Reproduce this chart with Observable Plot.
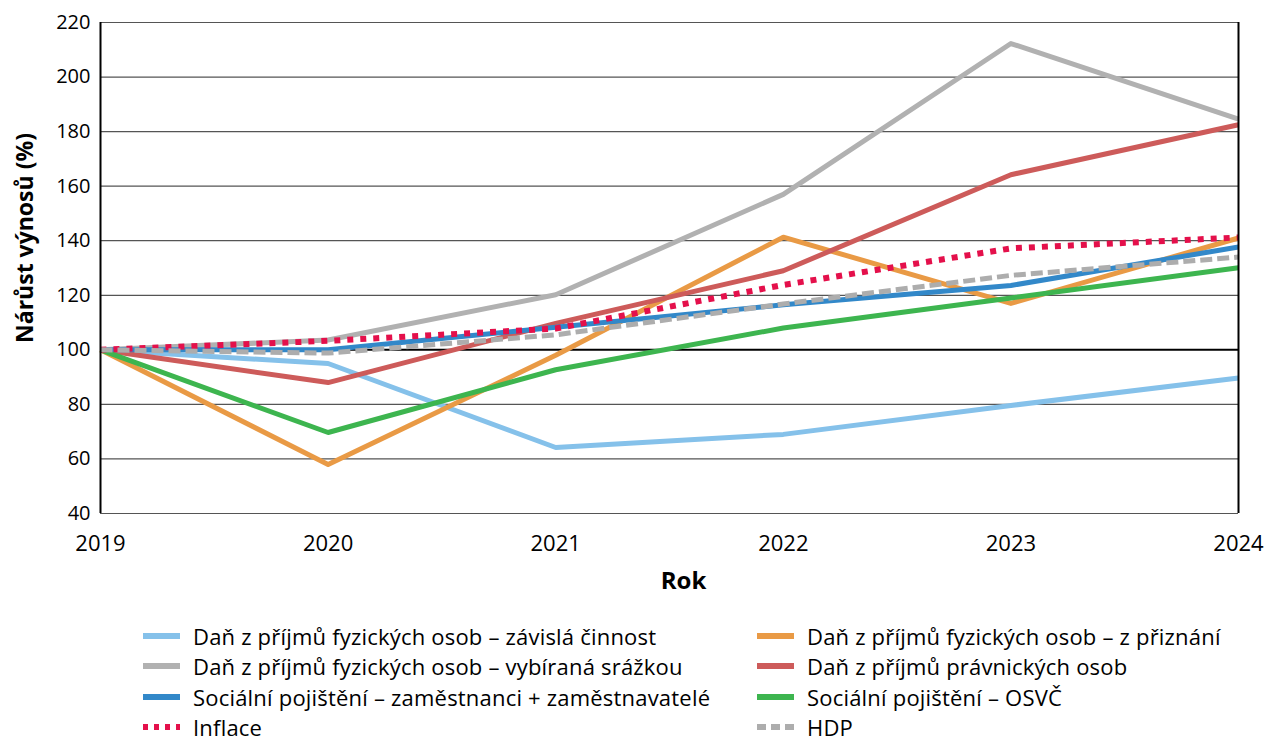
<!DOCTYPE html>
<html>
<head>
<meta charset="utf-8">
<script src="https://cdn.jsdelivr.net/npm/d3@7"></script>
<script src="https://cdn.jsdelivr.net/npm/@observablehq/plot@0.6"></script>
<style>
  html, body { margin: 0; padding: 0; background: #fff; overflow: hidden; }
  body { width: 1265px; height: 743px; position: relative; font-family: "Open Sans", Lato, sans-serif; }
  #chart { position: absolute; left: 0; top: 0; }
  #legend { position: absolute; left: 0; top: 0; width: 1265px; }
  .item { position: absolute; height: 22px; line-height: 22px; display: flex; align-items: center; font-size: 22px; letter-spacing: 0.2px; color: #000; white-space: nowrap; }
  .item svg { margin-right: 13px; flex: none; }
  .item span { display: inline-block; height: 22px; line-height: 22px; }
</style>
</head>
<body>
<div id="chart"></div>
<div id="legend"></div>
<script>
// ---- data ----
const years = [2019, 2020, 2021, 2022, 2023, 2024];
const yTicks = [40, 60, 80, 100, 120, 140, 160, 180, 200, 220];

const zavislaCinnost = [100, 95, 64.2, 69, 79.6, 89.7];
const zPriznani = [100, 58, 98, 141.3, 117, 141];
const vybiranaSrazkou = [100, 103.6, 120.2, 157, 212.3, 184.6];
const pravnickeOsoby = [100, 88, 109.7, 129, 164.2, 182.5];
const zamestnanci = [100, 100, 108.3, 116.5, 123.6, 137.7];
const osvc = [100, 69.7, 92.7, 108, 119, 130.1];
const inflace = [100, 103.3, 107.8, 123.8, 137.2, 141.2];
const hdp = [100, 98.8, 105.5, 116.8, 127.3, 134];

const seriesNames = [
  "Daň z příjmů fyzických osob – závislá činnost",
  "Daň z příjmů fyzických osob – z přiznání",
  "Daň z příjmů fyzických osob – vybíraná srážkou",
  "Daň z příjmů právnických osob",
  "Sociální pojištění – zaměstnanci + zaměstnavatelé",
  "Sociální pojištění – OSVČ",
  "Inflace",
  "HDP"
];
const seriesValues = [zavislaCinnost, zPriznani, vybiranaSrazkou, pravnickeOsoby, zamestnanci, osvc, inflace, hdp];
const seriesColors = ["#85C1EA", "#E99A45", "#B1B1B1", "#CD5B5A", "#3288C9", "#3DB54F", "#E4104B", "#ADADAD"];
const seriesDash = [null, null, null, null, null, null, "6,7", "12,5"];
const seriesWidth = [5, 5, 5, 5, 5, 5, 6, 5];

const yLabel = "Nárůst výnosů (%)";
const xLabel = "Rok";

// ---- build ----
const series = seriesNames.map((name, i) => ({
  name,
  color: seriesColors[i],
  dash: seriesDash[i],
  width: seriesWidth[i],
  data: years.map((year, j) => ({ year, value: seriesValues[i][j] }))
}));

const lineMarks = series.map(s => Plot.line(s.data, {
  x: "year", y: "value",
  stroke: s.color, strokeWidth: s.width,
  strokeDasharray: s.dash || undefined,
  strokeLinejoin: "round", strokeLinecap: "butt"
}));

const chart = Plot.plot({
  width: 1265,
  height: 600,
  marginLeft: 100,
  marginRight: 27,
  marginTop: 22,
  marginBottom: 87,
  style: { fontFamily: "'Open Sans', Lato, sans-serif", fontSize: "20px", color: "#000", background: "#fff", overflow: "visible" },
  x: { domain: d3.extent(years) },
  y: { domain: d3.extent(yTicks) },
  marks: [
    Plot.ruleY(yTicks.filter(v => v !== 100), { stroke: "#555", strokeWidth: 1.2 }),
    Plot.ruleY([100], { stroke: "#000", strokeWidth: 2 }),
    ...lineMarks,
    Plot.ruleX(d3.extent(years), { stroke: "#000", strokeWidth: 2 }),
    Plot.axisX({ ticks: years, tickFormat: d => String(d), tickSize: 0, tickPadding: 22, label: null, fill: "#000", fontSize: 22 }),
    Plot.axisY({ ticks: yTicks, tickSize: 0, tickPadding: 10, label: null, fill: "#000", fontSize: 20 }),
    Plot.text([yLabel], { frameAnchor: "left", textAnchor: "middle", rotate: -90, dx: -75, dy: -30, fontWeight: "bold", fontSize: 23, fill: "#000" }),
    Plot.text([xLabel], { frameAnchor: "bottom", textAnchor: "middle", dx: 14, dy: 75, fontWeight: "bold", fontSize: 24, fill: "#000" })
  ]
});
document.getElementById("chart").appendChild(chart);

// ---- legend (HTML) ----
const legend = document.getElementById("legend");
series.forEach((s, i) => {
  const col = i % 2, row = Math.floor(i / 2);
  const div = document.createElement("div");
  div.className = "item";
  div.style.left = (col === 0 ? 143 : 757) + "px";
  div.style.top = (636 + row * 30.3 - 11) + "px";
  const sw = `<svg width="37" height="10"><line x1="0" y1="5" x2="37" y2="5" stroke="${s.color}" stroke-width="6" ${s.dash ? `stroke-dasharray="${i === 6 ? '5,6' : '9,5'}"` : ""}/></svg>`;
  div.innerHTML = sw + `<span>${s.name}</span>`;
  legend.appendChild(div);
});
</script>
</body>
</html>
